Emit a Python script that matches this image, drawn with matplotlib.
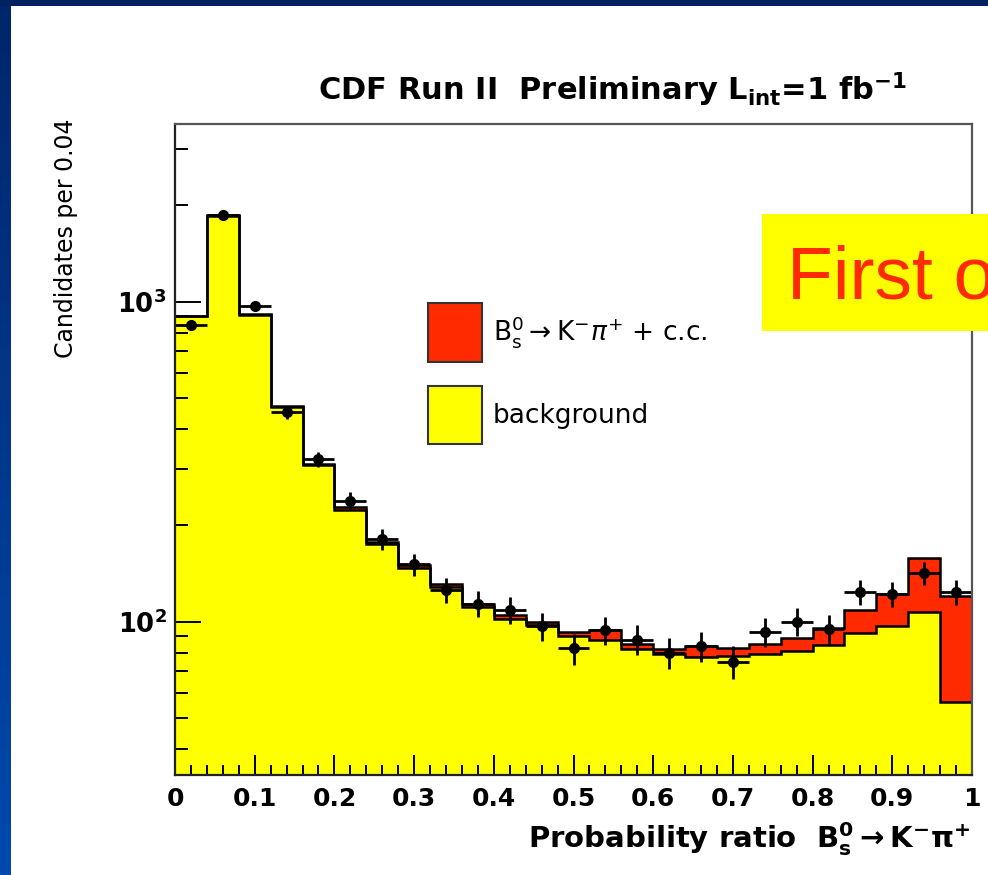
import numpy as np
import matplotlib
matplotlib.use("Agg")
import matplotlib.pyplot as plt
from matplotlib.patches import Patch, Rectangle
from matplotlib.ticker import FixedLocator, MultipleLocator, LogLocator, NullFormatter, FuncFormatter

# bin edges of the probability ratio (0.04 wide)
edges = np.linspace(0.0, 1.0, 26)

# background component (top of yellow)
bkg = [900, 1855, 910, 470, 308, 224, 175, 147, 128, 111, 102, 97.5, 90.5,
       88, 82, 79, 77.6, 78, 79.5, 81, 84.5, 92, 97, 107.5, 56]
# background + Bs -> K pi signal (top of red)
total = [905, 1862, 915, 473, 312, 228, 178, 150, 131, 114, 105, 100, 93,
         94, 85.5, 82, 84, 83, 85, 89, 95.5, 108.5, 122, 158, 120]
# data points and their errors
data = [843, 1870, 967, 451, 322, 239, 181, 151, 126, 114, 109, 97, 82.5,
        94, 88, 80, 84, 75, 93, 100, 95, 124, 122, 142, 124]
data_err = [29, 43, 31, 21, 18, 15.5, 13.5, 12.3, 11.2, 10.7, 10.4, 9.8, 9.1,
            9.7, 9.4, 8.9, 9.2, 8.7, 9.6, 10, 9.7, 11.1, 11, 11.9, 11.1]

RED = "#ff2a00"
YELLOW = "#ffff00"

W, H = 988, 875
fig = plt.figure(figsize=(W / 100, H / 100), dpi=100)
fig.patch.set_facecolor("white")

# slide border (blue)
ax_blue = fig.add_axes([0, 0, 10 / W, 1])
grad = np.linspace(0, 1, 256).reshape(-1, 1)
cmap = matplotlib.colors.LinearSegmentedColormap.from_list("b", ["#0049ae", "#00266a"])
ax_blue.imshow(grad, aspect="auto", cmap=cmap, origin="lower", extent=[0, 1, 0, 1])
ax_blue.axis("off")
fig.add_artist(Rectangle((0, 1 - 6 / H), 1, 6 / H, transform=fig.transFigure,
                         facecolor="#00215f", edgecolor="none"))

ax = fig.add_axes([175 / W, 1 - 775 / H, 797 / W, 651 / H])
ax.set_yscale("log")
ax.set_xlim(0, 1)
ax.set_ylim(33.2, 3590)

ax.stairs(bkg, edges, baseline=1, fill=True, color=YELLOW, zorder=1)
ax.stairs(total, edges, baseline=bkg, fill=True, color=RED, zorder=1)
ax.stairs(bkg, edges, baseline=None, color="black", lw=1.8, zorder=2)
ax.stairs(total, edges, baseline=None, color="black", lw=1.8, zorder=2)

centers = 0.5 * (edges[:-1] + edges[1:])
ax.errorbar(centers, data, yerr=data_err, xerr=0.02, fmt="o", color="black",
            ms=7, lw=2, capsize=0, zorder=3)

# axes styling
for name, s in ax.spines.items():
    s.set_color("#222222" if name in ("left", "bottom") else "#555555")
    s.set_linewidth(1.6)
    s.set_zorder(4)
ax.xaxis.set_major_locator(MultipleLocator(0.1))
ax.xaxis.set_minor_locator(MultipleLocator(0.02))
ax.xaxis.set_major_formatter(FuncFormatter(lambda v, p: "0" if abs(v) < 1e-9 else ("1" if abs(v - 1) < 1e-9 else f"{v:.1f}")))
ax.yaxis.set_major_locator(FixedLocator([100, 1000]))
ax.yaxis.set_minor_locator(LogLocator(base=10, subs=np.arange(2, 10)))
ax.yaxis.set_major_formatter(FuncFormatter(lambda v, p: r"$\mathbf{10^{%d}}$" % round(np.log10(v))))
ax.yaxis.set_minor_formatter(NullFormatter())
ax.tick_params(axis="x", which="major", direction="in", length=14.5, width=1.4, pad=8.5,
               top=False, labelsize=18)
ax.tick_params(axis="x", which="minor", direction="in", length=7, width=1.4, top=False)
ax.tick_params(axis="y", which="major", direction="in", length=19, width=1.4, pad=6,
               right=False, labelsize=18.5)
ax.tick_params(axis="y", which="minor", direction="in", length=9, width=1.4, right=False)
for lab in ax.get_xticklabels() + ax.get_yticklabels():
    lab.set_fontweight("bold")

# legend
handles = [Patch(facecolor=RED, edgecolor="#333333", lw=1.5),
           Patch(facecolor=YELLOW, edgecolor="#333333", lw=1.5)]
labels = [r"$\mathrm{B_s^0} \rightarrow \mathrm{K^{-}}\pi^{+}$ + c.c.", "background"]
fig.legend(handles, labels, loc="upper left", bbox_to_anchor=(428 / W, 1 - 303 / H),
           frameon=False, borderpad=0, borderaxespad=0, fontsize=19,
           handlelength=2.04, handleheight=3.05, handletextpad=0.42, labelspacing=0.9)

# titles and axis labels
fig.text(318 / W, 1 - 100 / H,
         r"CDF Run II  Preliminary L$_{\mathbf{int}}$=1 fb$^{\mathbf{-1}}$",
         fontsize=22, fontweight="bold", ha="left", va="baseline")
fig.text(970 / W, 1 - 848 / H,
         r"Probability ratio  $\mathbf{B^0_s \rightarrow K^{-}\pi^{+}}$",
         fontsize=21, fontweight="bold", ha="right", va="baseline")
fig.text(66 / W, 1 - 238 / H, "Candidates per 0.04", fontsize=17,
         family=["Liberation Sans Narrow", "DejaVu Sans"], fontweight="medium",
         rotation=90, ha="center", va="center")

# highlight box from the slide (cut at the right edge)
fig.add_artist(Rectangle((762 / W, 1 - 331 / H), (W - 762) / W, 117 / H,
                         transform=fig.transFigure, facecolor=YELLOW,
                         edgecolor="none", zorder=5))
fig.text(787 / W, 1 - 299 / H, "First o", fontsize=54, color=RED,
         family="Liberation Sans", ha="left", va="baseline", zorder=6)

fig.savefig("out.png", dpi=100)
